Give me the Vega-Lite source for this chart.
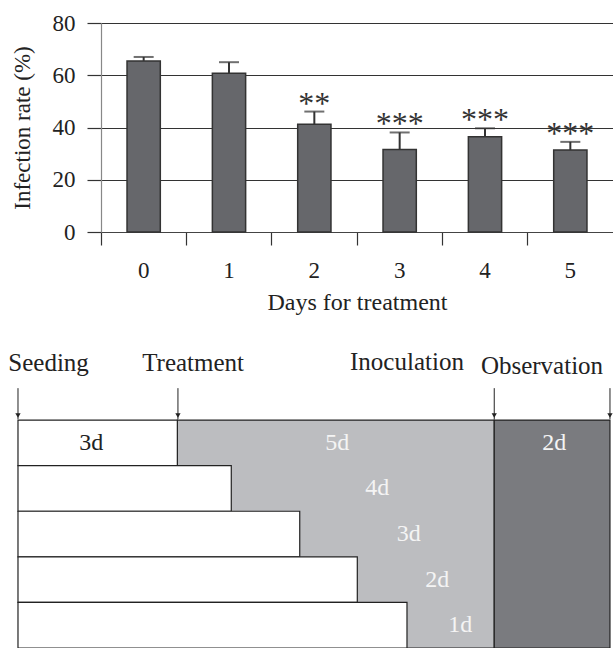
{
  "$schema": "https://vega.github.io/schema/vega-lite/v6.json",
  "padding": {"left": 8, "top": 12, "right": 0, "bottom": 0},
  "background": "white",
  "config": {
    "font": "Liberation Serif",
    "view": {"stroke": null},
    "axis": {"labelFont": "Liberation Serif", "titleFont": "Liberation Serif", "titleFontWeight": "normal"}
  },
  "datasets": {
    "bars": [
      {"day": "0", "rate": 65.5, "upper": 67.0, "star": ""},
      {"day": "1", "rate": 60.8, "upper": 65.0, "star": ""},
      {"day": "2", "rate": 41.2, "upper": 46.1, "star": "**"},
      {"day": "3", "rate": 31.6, "upper": 38.1, "star": "***"},
      {"day": "4", "rate": 36.5, "upper": 39.7, "star": "***"},
      {"day": "5", "rate": 31.4, "upper": 34.5, "star": "***"}
    ],
    "boxes": [
      {"kind": "treat", "x": 28.1, "x2": 80.4, "r": 0, "r2": 5},
      {"kind": "obs", "x": 80.4, "x2": 99.5, "r": 0, "r2": 5},
      {"kind": "grow", "x": 1.8, "x2": 28.1, "r": 0, "r2": 1},
      {"kind": "grow", "x": 1.8, "x2": 37.0, "r": 1, "r2": 2},
      {"kind": "grow", "x": 1.8, "x2": 48.3, "r": 2, "r2": 3},
      {"kind": "grow", "x": 1.8, "x2": 57.8, "r": 3, "r2": 4},
      {"kind": "grow", "x": 1.8, "x2": 66.0, "r": 4, "r2": 5}
    ],
    "durations": [
      {"label": "3d", "x": 13.9, "r": 0.5, "tone": "dark"},
      {"label": "5d", "x": 54.5, "r": 0.5, "tone": "light"},
      {"label": "4d", "x": 61.1, "r": 1.5, "tone": "light"},
      {"label": "3d", "x": 66.3, "r": 2.5, "tone": "light"},
      {"label": "2d", "x": 71.0, "r": 3.5, "tone": "light"},
      {"label": "1d", "x": 74.8, "r": 4.5, "tone": "light"},
      {"label": "2d", "x": 90.3, "r": 0.5, "tone": "light"}
    ],
    "events": [
      {"event": "Seeding", "x": 1.8, "lx": 0.2, "ly": -1.25},
      {"event": "Treatment", "x": 28.2, "lx": 22.3, "ly": -1.25},
      {"event": "Inoculation", "x": 80.4, "lx": 56.6, "ly": -1.28},
      {"event": "Observation", "x": 99.5, "lx": 78.2, "ly": -1.18}
    ]
  },
  "vconcat": [
    {
      "width": 512,
      "height": 209,
      "data": {"name": "bars"},
      "encoding": {
        "x": {
          "field": "day", "type": "ordinal",
          "scale": {"paddingInner": 0, "paddingOuter": 0},
          "axis": {
            "title": "Days for treatment", "titleFontSize": 24, "titlePadding": 8, "titleColor": "#222",
            "labelAngle": 0, "labelFontSize": 23, "labelPadding": 14, "labelColor": "#222",
            "bandPosition": 0, "tickSize": 13, "tickColor": "#333", "tickWidth": 1.2,
            "domainColor": "#444", "domainWidth": 1.2
          }
        }
      },
      "layer": [
        {
          "mark": {"type": "bar", "width": {"band": 0.39}, "color": "#66676b", "stroke": "#333333", "strokeWidth": 1.5},
          "encoding": {
            "y": {
              "field": "rate", "type": "quantitative",
              "scale": {"domain": [0, 80]},
              "axis": {
                "title": "Infection rate (%)", "titleFontSize": 23, "titlePadding": 18, "titleColor": "#222",
                "values": [0, 20, 40, 60, 80], "labelFontSize": 23, "labelPadding": 12, "labelColor": "#222",
                "tickSize": 14, "tickColor": "#333", "tickWidth": 1.2,
                "grid": true, "gridColor": "#333", "gridWidth": 1.2, "gridOpacity": 1,
                "domainColor": "#888", "domainWidth": 1.2
              }
            }
          }
        },
        {
          "mark": {"type": "rule", "color": "#333333", "strokeWidth": 2},
          "encoding": {"y": {"field": "rate", "type": "quantitative"}, "y2": {"field": "upper"}}
        },
        {
          "mark": {"type": "tick", "color": "#333333", "size": 20, "thickness": 2},
          "encoding": {"y": {"field": "upper", "type": "quantitative"}}
        },
        {
          "mark": {"type": "text", "fontSize": 32, "baseline": "middle", "dy": -8, "color": "#333"},
          "encoding": {"y": {"field": "upper", "type": "quantitative"}, "text": {"field": "star"}}
        }
      ]
    },
    {
      "width": 512,
      "height": 310,
      "layer": [
        {
          "data": {"name": "boxes"},
          "mark": {"type": "rect", "stroke": "#222", "strokeWidth": 1.2},
          "encoding": {
            "x": {"field": "x", "type": "quantitative", "scale": {"domain": [15.5, 100], "nice": false, "zero": false}, "axis": null},
            "x2": {"field": "x2"},
            "y": {"field": "r", "type": "quantitative", "scale": {"domain": [-1.8, 5], "reverse": true, "nice": false, "zero": false}, "axis": null},
            "y2": {"field": "r2"},
            "fill": {"field": "kind", "type": "nominal", "scale": {"domain": ["grow", "treat", "obs"], "range": ["#ffffff", "#bcbdc0", "#7a7b7f"]}, "legend": null}
          }
        },
        {
          "data": {"name": "events"},
          "mark": {"type": "rule", "color": "#222", "strokeWidth": 1},
          "encoding": {
            "x": {"field": "x", "type": "quantitative"},
            "y": {"datum": -0.7, "type": "quantitative"},
            "y2": {"datum": -0.02}
          }
        },
        {
          "data": {"name": "events"},
          "mark": {"type": "point", "shape": "triangle-down", "size": 28, "filled": true, "color": "#222", "opacity": 1},
          "encoding": {
            "x": {"field": "x", "type": "quantitative"},
            "y": {"datum": -0.1, "type": "quantitative"}
          }
        },
        {
          "data": {"name": "events"},
          "mark": {"type": "text", "align": "left", "baseline": "middle", "fontSize": 25, "color": "#222"},
          "encoding": {
            "x": {"field": "lx", "type": "quantitative"},
            "y": {"field": "ly", "type": "quantitative"},
            "text": {"field": "event"}
          }
        },
        {
          "data": {"name": "durations"},
          "mark": {"type": "text", "align": "center", "baseline": "middle", "fontSize": 24},
          "encoding": {
            "x": {"field": "x", "type": "quantitative"},
            "y": {"field": "r", "type": "quantitative"},
            "text": {"field": "label"},
            "color": {"field": "tone", "type": "nominal", "scale": {"domain": ["dark", "light"], "range": ["#222222", "#f4f4f4"]}, "legend": null}
          }
        }
      ]
    }
  ],
  "spacing": 24
}
